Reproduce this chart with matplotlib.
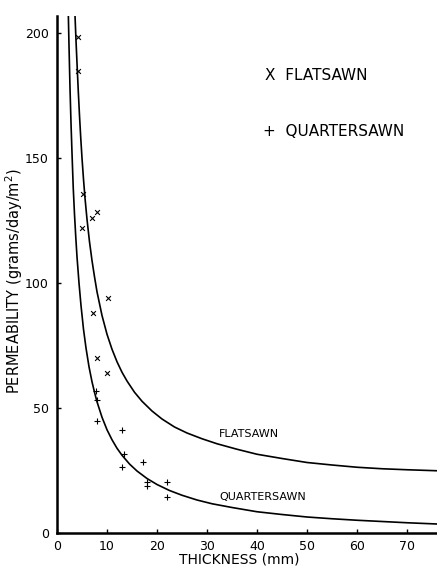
import matplotlib
matplotlib.use('Agg')
import matplotlib.pyplot as plt

# fitted curves (thickness mm, permeability)
flat_curve_t = [3.6, 3.8, 4.0, 4.25, 4.5, 4.75, 5.0, 5.3, 5.6, 6.0, 6.5, 7.0, 7.5, 8.0, 9.0, 10, 11, 12, 13, 14,
                15.5, 17, 19, 21, 23.5, 26, 29, 32, 36, 40, 45, 50, 55, 60, 65, 70, 76]
flat_curve_p = [207, 197, 188, 177, 167, 158, 150, 141.5, 134, 125.5, 116.5, 109, 102.5, 96.5, 87, 79.5, 73.5, 68.5, 64.3, 60.8,
                56.3, 52.7, 48.8, 45.6, 42.4, 40, 37.7, 35.7, 33.5, 31.5, 29.8, 28.2, 27.2, 26.3, 25.7, 25.3, 24.9]

quarter_curve_t = [2.27, 2.4, 2.6, 2.8, 3.0, 3.25, 3.5, 3.75, 4.0, 4.4, 4.8, 5.3, 5.8, 6.4, 7.0, 7.5, 8, 9, 10, 11,
                   12, 13, 14.5, 16, 18, 20, 22.5, 25, 28, 31, 35, 40, 45, 50, 55, 60, 65, 70, 76]
quarter_curve_p = [207, 195, 178, 164, 152, 138, 127.5, 118.5, 110.5, 100, 91, 81.5, 74, 66.5, 60.5, 56.3, 52.5, 46.3, 41.3, 37.3,
                   33.9, 31.1, 27.6, 24.8, 21.8, 19.4, 17, 15.1, 13.2, 11.7, 10.2, 8.5, 7.4, 6.4, 5.7, 5.1, 4.6, 4.1, 3.6]

# measured points
flat_t = [4.27, 4.13, 5.13, 4.93, 6.93, 8.07, 10.1, 7.13, 7.93, 9.93]
flat_p = [198.5, 185, 135.5, 121.9, 125.9, 128.5, 94.1, 87.9, 69.9, 63.9]

quarter_t = [7.8, 7.93, 7.93, 12.9, 13.3, 12.9, 17.1, 17.9, 17.9, 21.9, 21.9]
quarter_p = [56.9, 53.2, 44.9, 41.2, 31.6, 26.3, 28.3, 20.5, 19.0, 20.5, 14.5]

x_ticks = [0, 10, 20, 30, 40, 50, 60, 70]
y_ticks = [0, 50, 100, 150, 200]

plt.rcParams['font.family'] = ['DejaVu Sans']

fig = plt.figure(figsize=(4.37, 5.67), dpi=100)
ax = fig.add_axes([57 / 437, 34 / 567, 380 / 437, 517.5 / 567])

ax.plot(flat_curve_t, flat_curve_p, color='black', lw=1.2)
ax.plot(quarter_curve_t, quarter_curve_p, color='black', lw=1.2)
ax.scatter(flat_t, flat_p, marker='x', s=12, color='black', linewidths=0.8)
ax.scatter(quarter_t, quarter_p, marker='+', s=16, color='black', linewidths=0.8)

ax.set_xlim(0, 76)
ax.set_ylim(0, 207)
ax.set_xticks(x_ticks)
ax.set_yticks(y_ticks)
ax.tick_params(direction='in', length=3, width=1, labelsize=9)
ax.tick_params(axis='x', pad=5)
ax.tick_params(axis='y', pad=6)

for s in ['top', 'right']:
    ax.spines[s].set_visible(False)
for s in ['left', 'bottom']:
    ax.spines[s].set_linewidth(1.8)

ax.set_ylabel('PERMEABILITY (grams/day/m$^2$)', fontsize=10.5)
ax.set_xlabel('THICKNESS (mm)', fontsize=10)
ax.yaxis.set_label_coords(-0.085, 0.486)
ax.xaxis.set_label_coords(0.479, -0.038)

ax.text(41.6, 183.2, 'X  FLATSAWN', fontsize=11, va='center', ha='left')
ax.text(41.2, 160.8, '+  QUARTERSAWN', fontsize=11, va='center', ha='left')
ax.text(32.4, 39.6, 'FLATSAWN', fontsize=8, va='center', ha='left')
ax.text(32.4, 14.4, 'QUARTERSAWN', fontsize=8, va='center', ha='left')

fig.savefig('out.png', dpi=100)
